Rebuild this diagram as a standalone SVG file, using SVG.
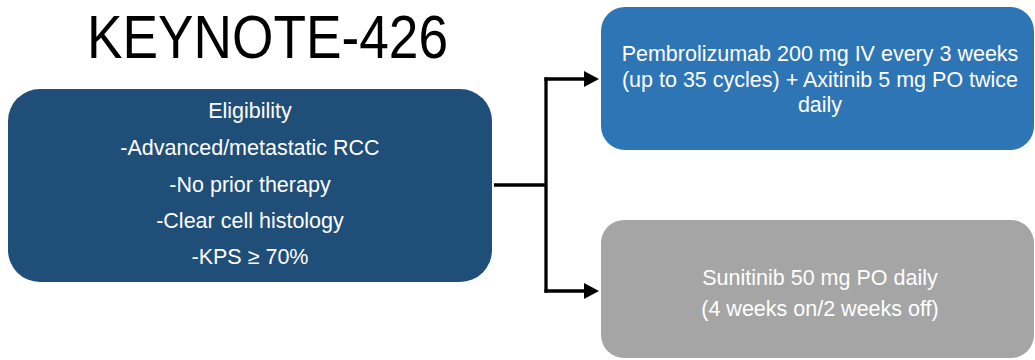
<svg xmlns="http://www.w3.org/2000/svg" width="1035" height="360" viewBox="0 0 1035 360">
  <defs>
    <style>
      .t { font-family: "Liberation Sans", Arial, sans-serif; font-size: 21.5px; fill: #ffffff; text-anchor: middle; }
      .title { font-family: "Liberation Sans", Arial, sans-serif; font-size: 61px; fill: #000000; text-anchor: middle; }
      .conn { stroke: #000000; stroke-width: 3.3; fill: none; }
    </style>
    <marker id="arrow" markerUnits="userSpaceOnUse" markerWidth="15" markerHeight="16" viewBox="0 0 15 16" refX="0" refY="8" orient="auto">
      <path d="M0 0 L15 8 L0 16 z" fill="#000000"/>
    </marker>
  </defs>
  <rect width="1035" height="360" fill="#ffffff"/>
  <g id="title">
    <text class="title" x="267.5" y="58" textLength="361" lengthAdjust="spacingAndGlyphs">KEYNOTE-426</text>
  </g>
  <g id="eligibility">
    <rect x="8" y="89" width="484" height="193" rx="32" ry="32" fill="#1F4E79"/>
    <text class="t" x="250" y="118">Eligibility</text>
    <text class="t" x="250" y="155">-Advanced/metastatic RCC</text>
    <text class="t" x="250" y="192">-No prior therapy</text>
    <text class="t" x="250" y="228">-Clear cell histology</text>
    <text class="t" x="250" y="264">-KPS ≥ 70%</text>
  </g>
  <g id="pembro">
    <rect x="601" y="7" width="433" height="143" rx="24" ry="24" fill="#2E75B6"/>
    <text class="t" x="820" y="61">Pembrolizumab 200 mg IV every 3 weeks</text>
    <text class="t" x="820" y="87">(up to 35 cycles) + Axitinib 5 mg PO twice</text>
    <text class="t" x="820" y="112">daily</text>
  </g>
  <g id="sunitinib">
    <rect x="601" y="220" width="433" height="138" rx="23" ry="23" fill="#A5A5A5"/>
    <text class="t" x="820" y="285">Sunitinib 50 mg PO daily</text>
    <text class="t" x="820" y="316">(4 weeks on/2 weeks off)</text>
  </g>
  <g id="connectors">
    <path class="conn" d="M494 185 H546"/>
    <path class="conn" d="M546 77.4 V292.6"/>
    <path class="conn" d="M544.4 79 H584" marker-end="url(#arrow)"/>
    <path class="conn" d="M544.4 291 H584" marker-end="url(#arrow)"/>
  </g>
</svg>
